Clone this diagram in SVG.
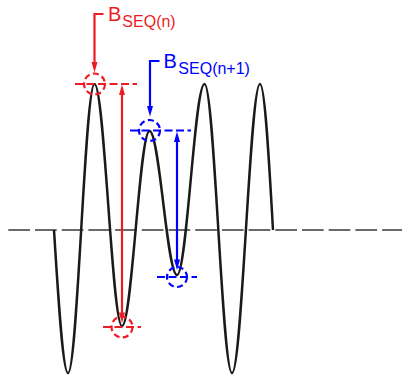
<svg xmlns="http://www.w3.org/2000/svg" width="402" height="377" viewBox="0 0 402 377">
<style>
.axis{fill:none;stroke:#3a3a3a;stroke-width:1.4;stroke-dasharray:21.7 5}
.wave{fill:none;stroke:#1a1a1a;stroke-width:2.5;stroke-linejoin:round}
.red{stroke:#ed1c24;fill:none;stroke-width:2.2}
.blue{stroke:#0000ff;fill:none;stroke-width:2.2}
.dash{stroke-dasharray:8 3.5}
.cdash{stroke-dasharray:6 3.5}
.rf{fill:#ed1c24}
.bf{fill:#0000ff}
.lbl{font-family:"Liberation Sans",Arial,sans-serif;font-size:20px}
.sub{font-size:16px}
</style>
<rect width="402" height="377" fill="#ffffff"/>
<g id="axis">
<line class="axis" x1="8.3" y1="230" x2="402" y2="230"/>
</g>
<g id="waveform">
<path class="wave" d="M54,230 C58.7,304.9 62.9,373 68,373 C77.65,373 84.85,84 94.5,84 C104.51,84 111.99,326 122,326 C132.01,326 139.49,131 149.5,131 C159.51,131 166.99,275 177,275 C187.01,275 194.49,84 204.5,84 C214.51,84 221.99,373 232,373 C242.19,373 249.81,84 260,84 C264.7,84 268.7,153.5 273,230"/>
</g>
<g id="marker-n">
<line class="red dash" x1="75" y1="84" x2="137" y2="84"/>
<circle class="red cdash" cx="94.5" cy="84" r="10.5"/>
<line class="red dash" x1="103" y1="327" x2="141" y2="327"/>
<circle class="red cdash" cx="122" cy="327" r="10.5"/>
</g>
<g id="marker-n1">
<line class="blue dash" x1="130" y1="130.5" x2="191" y2="130.5"/>
<circle class="blue cdash" cx="149.5" cy="130.5" r="10.5"/>
<line class="blue dash" x1="157" y1="277" x2="197" y2="277"/>
<circle class="blue cdash" cx="177" cy="277" r="10"/>
</g>
<g id="label-n">
<text class="lbl" x="108" y="20.7" fill="#ed1c24">B<tspan class="sub" dx="1" dy="6">SEQ(n)</tspan></text>
</g>
<g id="label-n1">
<text class="lbl" x="163.5" y="67.7" fill="#0000ff">B<tspan class="sub" dx="1.5" dy="6">SEQ(n+1)</tspan></text>
</g>
<g id="connectors">
<path class="red" d="M103.5,14 H94.5 V63"/>
<polygon class="rf" points="94.5,72.5 91.5,62 97.5,62"/>
<line class="red" x1="122" y1="94" x2="122" y2="314"/>
<polygon class="rf" points="122,84.5 119,95 125,95"/>
<polygon class="rf" points="122,323 119,312.5 125,312.5"/>
<path class="blue" d="M159.5,61 H150 V107"/>
<polygon class="bf" points="150,116.5 147,106 153,106"/>
<line class="blue" x1="177" y1="141" x2="177" y2="260"/>
<polygon class="bf" points="177,131.5 174,142 180,142"/>
<polygon class="bf" points="177,270 174,259.5 180,259.5"/>
</g>
</svg>
